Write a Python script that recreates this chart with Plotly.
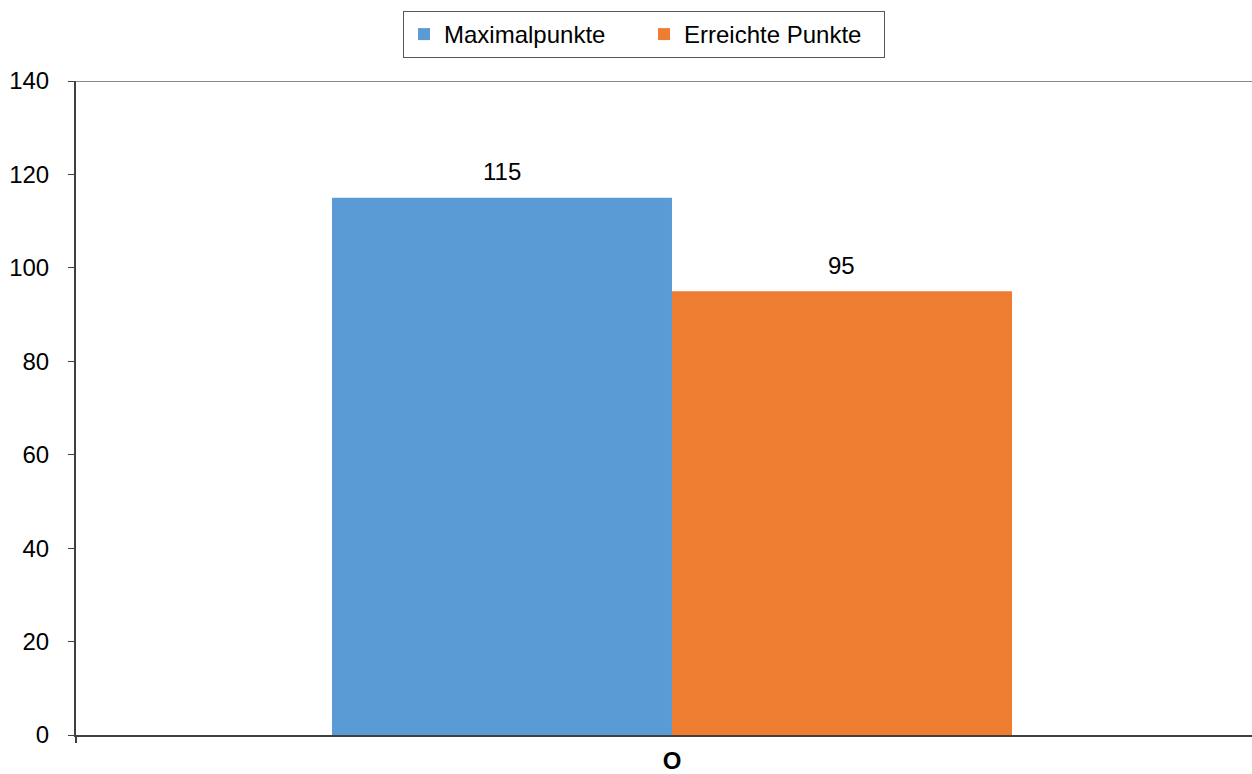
import plotly.graph_objects as go

categories = ["O"]
series_names = ["Maximalpunkte", "Erreichte Punkte"]
max_points = [115]
reached_points = [95]
colors = ["#5B9BD5", "#ED7D31"]

W, H = 1252, 774
FONT = "Liberation Sans, Arial, sans-serif"
FS = 24

fig = go.Figure()
for name, vals, col in zip(series_names, [max_points, reached_points], colors):
    fig.add_trace(go.Bar(
        x=categories, y=vals, name=name, marker=dict(color=col, line=dict(width=0)),
    ))

# value labels above each bar
offsets = [-0.5, 0.5]
for vals, off in zip([max_points, reached_points], offsets):
    for c, v in zip(categories, vals):
        fig.add_annotation(
            x=c, y=v, xref="x", yref="y", text=str(v), showarrow=False,
            xshift=off * 340, yshift=26, font=dict(family=FONT, size=FS, color="#000000"),
        )

# top border of the plot area
fig.add_shape(type="line", xref="paper", x0=0, x1=1, yref="y", y0=140, y1=140,
              line=dict(color="#898989", width=2))

fig.update_layout(
    width=W, height=H,
    margin=dict(l=76, r=0, t=81, b=39),
    paper_bgcolor="white", plot_bgcolor="white",
    barmode="group", bargap=0.4295, bargroupgap=0,
    font=dict(family=FONT, size=FS, color="#000000"),
    showlegend=True,
    legend=dict(
        orientation="h", xref="container", yref="container",
        x=0.5144, xanchor="center", y=1 - 11 / H, yanchor="top",
        bgcolor="white", bordercolor="#595959", borderwidth=1,
        font=dict(family=FONT, size=FS, color="#000000"),
        entrywidth=195, itemwidth=30,
    ),
    xaxis=dict(
        type="category", range=[-0.5, 0.4866], automargin=False,
        showline=True, linecolor="#404040", linewidth=2,
        ticks="outside", tickson="boundaries", ticklen=6, tickcolor="#404040", tickwidth=2,
        tickfont=dict(family=FONT, size=FS, color="#000000", weight="bold"),
        showgrid=False, zeroline=False, ticklabelstandoff=3,
    ),
    yaxis=dict(
        range=[0, 140], dtick=20, tick0=0, automargin=False,
        showline=True, linecolor="#404040", linewidth=2,
        ticks="outside", ticklen=6, tickcolor="#404040", tickwidth=1,
        tickfont=dict(family=FONT, size=FS, color="#000000"),
        showgrid=False, zeroline=False, ticklabelstandoff=14,
    ),
)

fig.write_html("out.html")
